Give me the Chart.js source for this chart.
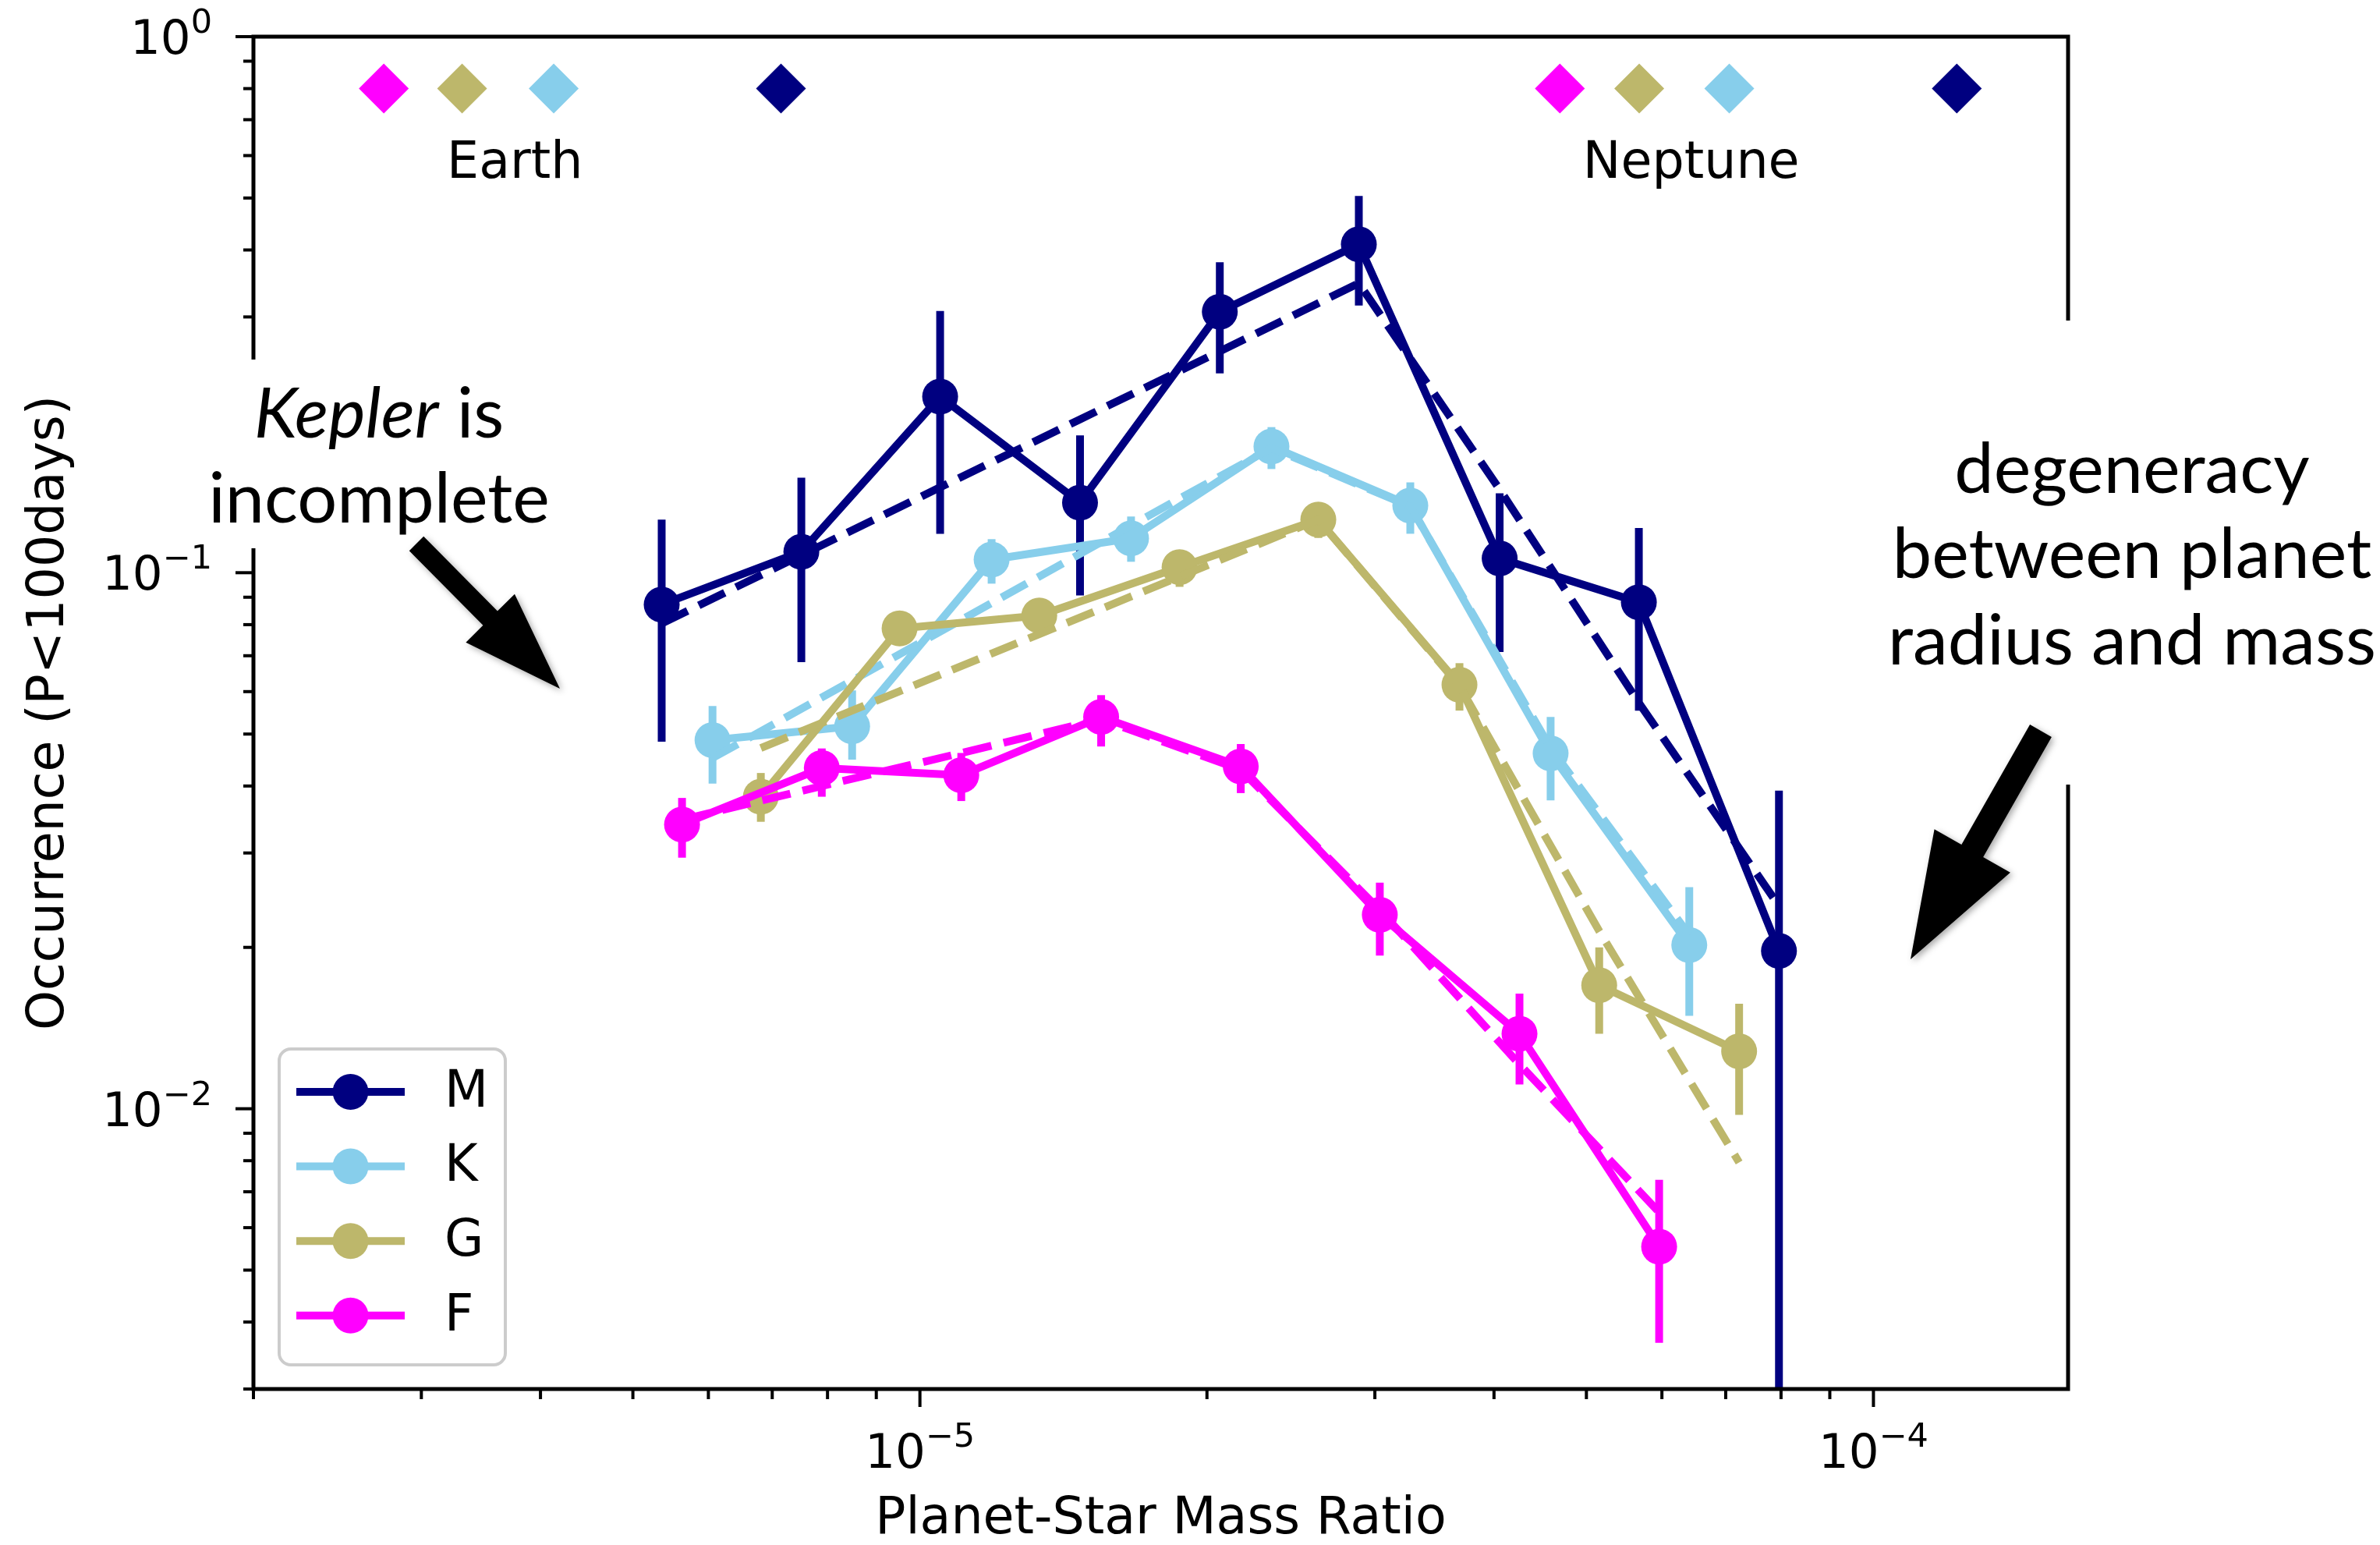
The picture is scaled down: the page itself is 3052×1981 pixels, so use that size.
<!DOCTYPE html>
<html>
<head>
<meta charset="utf-8">
<script src="https://cdn.jsdelivr.net/npm/chart.js@4.4.0/dist/chart.umd.min.js"></script>
<style>
  html, body { margin: 0; padding: 0; background: #fff; }
  canvas { display: block; }
</style>
</head>
<body>
<canvas id="occChart" width="3052" height="1981" style="width:3052px;height:1981px"></canvas>
<script>
// occurrence rate per planet-star mass ratio bin, split by host spectral type
const ratioM = [5.36e-6, 7.51e-6, 1.050e-5, 1.472e-5, 2.063e-5, 2.886e-5, 4.055e-5, 5.675e-5, 7.96e-5];
const occM   = [0.0872, 0.1094, 0.213, 0.1351, 0.3068, 0.4098, 0.1063, 0.0881, 0.0197];
const lowM   = [0.0484, 0.0681, 0.1182, 0.0907, 0.2355, 0.3151, 0.0711, 0.0553, 0.001];
const highM  = [0.1256, 0.1504, 0.3078, 0.1803, 0.3796, 0.5043, 0.1407, 0.1212, 0.0392];
const fitM   = [0.0804, 0.1078, 0.1443, 0.1932, 0.2588, 0.3467, 0.1430, 0.0572, 0.0239];

const ratioK = [6.06e-6, 8.49e-6, 1.189e-5, 1.665e-5, 2.337e-5, 3.268e-5, 4.586e-5, 6.41e-5];
const occK   = [0.0487, 0.0517, 0.1058, 0.1159, 0.172, 0.1334, 0.046, 0.0202];
const lowK   = [0.0404, 0.0448, 0.0954, 0.1048, 0.1561, 0.1182, 0.0376, 0.0149];
const highK  = [0.0564, 0.0603, 0.1155, 0.1273, 0.1869, 0.1474, 0.0538, 0.0259];
const fitK   = [0.0451, 0.0629, 0.0878, 0.1225, 0.1709, 0.1329, 0.0471, 0.0211];

const ratioG = [6.81e-6, 9.52e-6, 1.334e-5, 1.872e-5, 2.617e-5, 3.68e-5, 5.157e-5, 7.23e-5];
const occG   = [0.0382, 0.0787, 0.0832, 0.1024, 0.1256, 0.0618, 0.0170, 0.0128];
const lowG   = [0.0343, 0.0732, 0.0768, 0.0941, 0.1161, 0.0553, 0.0138, 0.00974];
const highG  = [0.0423, 0.0846, 0.0895, 0.1094, 0.1338, 0.0678, 0.0200, 0.0157];
const fitG   = [0.0471, 0.0601, 0.0768, 0.0983, 0.1256, 0.0615, 0.02145, 0.00794];

const ratioF = [5.63e-6, 7.89e-6, 1.105e-5, 1.549e-5, 2.170e-5, 3.036e-5, 4.254e-5, 5.96e-5];
const occF   = [0.0339, 0.0432, 0.0419, 0.0538, 0.0435, 0.0230, 0.0138, 0.00553];
const lowF   = [0.0294, 0.0382, 0.0375, 0.0474, 0.0388, 0.0193, 0.0111, 0.00366];
const highF  = [0.0380, 0.0470, 0.0461, 0.0591, 0.0479, 0.0264, 0.0164, 0.00737];
const fitF   = [0.0346, 0.0400, 0.0461, 0.0533, 0.0429, 0.02348, 0.0121, 0.00641];

// Earth and Neptune mass ratios for each host type (F, G, K, M)
const markerTypes   = ['F', 'G', 'K', 'M'];
const earthRatio    = [2.74e-6, 3.31e-6, 4.13e-6, 7.15e-6];
const neptuneRatio  = [4.69e-5, 5.68e-5, 7.06e-5, 1.223e-4];
const markerLevel   = 0.8;

// axis ticks
const xMajorTicks = [1e-5, 1e-4];
const xTickExps   = ['−5', '−4'];
const yMajorTicks = [1e-2, 1e-1, 1];
const yTickExps   = ['−2', '−1', '0'];

const typeColors = { M: '#000080', K: '#87ceeb', G: '#bdb76b', F: '#ff00ff' };

const series = [
  { label: 'M', ratio: ratioM, occ: occM, low: lowM, high: highM, fit: fitM },
  { label: 'K', ratio: ratioK, occ: occK, low: lowK, high: highK, fit: fitK },
  { label: 'G', ratio: ratioG, occ: occG, low: lowG, high: highG, fit: fitG },
  { label: 'F', ratio: ratioF, occ: occF, low: lowF, high: highF, fit: fitF }
];

const LW = 10;
const datasets = [];
series.forEach((s, i) => {
  const c = typeColors[s.label];
  const base = 80 - i * 20;
  datasets.push({
    label: s.label,
    data: s.ratio.map((r, j) => ({ x: r, y: s.occ[j] })),
    errLow: s.low,
    errHigh: s.high,
    showLine: true,
    borderColor: c,
    borderWidth: LW,
    backgroundColor: c,
    pointRadius: 23,
    pointBackgroundColor: c,
    pointBorderWidth: 0,
    order: base
  });
  datasets.push({
    label: s.label + ' fit',
    data: s.ratio.map((r, j) => ({ x: r, y: s.fit[j] })),
    showLine: true,
    borderColor: c,
    borderWidth: LW,
    borderDash: [37, 16],
    pointRadius: 0,
    order: base - 1
  });
});
datasets.push({
  label: 'Earth / Neptune',
  data: earthRatio.map(r => ({ x: r, y: markerLevel })).concat(neptuneRatio.map(r => ({ x: r, y: markerLevel }))),
  pointStyle: 'rectRot',
  pointRadius: 32,
  pointBorderWidth: 0,
  pointBackgroundColor: markerTypes.concat(markerTypes).map(t => typeColors[t]),
  showLine: false,
  order: 0
});

const SANS = '"DejaVu Sans", sans-serif';
const NOTE = 'Lato, "Open Sans", sans-serif';

// "10" with a raised exponent, anchored by align ('center' or 'right')
function drawPower(ctx, exp, x, baseline, align) {
  ctx.font = '61px ' + SANS;
  const wb = ctx.measureText('10').width;
  ctx.font = '43px ' + SANS;
  const we = ctx.measureText(exp).width;
  const start = align === 'right' ? x - wb - we : x - (wb + we) / 2;
  ctx.textAlign = 'left';
  ctx.textBaseline = 'alphabetic';
  ctx.font = '61px ' + SANS;
  ctx.fillText('10', start, baseline);
  ctx.font = '43px ' + SANS;
  ctx.fillText(exp, start + wb, baseline - 27);
}

function drawArrow(ctx, x0, y0, x1, y1, shaftW, headW, headL) {
  const len = Math.hypot(x1 - x0, y1 - y0);
  const ux = (x1 - x0) / len, uy = (y1 - y0) / len;
  const nx = -uy, ny = ux;
  const bx = x1 - ux * headL, by = y1 - uy * headL;
  ctx.save();
  ctx.shadowColor = 'rgba(0,0,0,0.35)';
  ctx.shadowBlur = 8;
  ctx.shadowOffsetX = 3;
  ctx.shadowOffsetY = 3;
  ctx.fillStyle = '#000';
  ctx.beginPath();
  ctx.moveTo(x0 + nx * shaftW / 2, y0 + ny * shaftW / 2);
  ctx.lineTo(bx + nx * shaftW / 2, by + ny * shaftW / 2);
  ctx.lineTo(bx + nx * headW / 2, by + ny * headW / 2);
  ctx.lineTo(x1, y1);
  ctx.lineTo(bx - nx * headW / 2, by - ny * headW / 2);
  ctx.lineTo(bx - nx * shaftW / 2, by - ny * shaftW / 2);
  ctx.lineTo(x0 - nx * shaftW / 2, y0 - ny * shaftW / 2);
  ctx.closePath();
  ctx.fill();
  ctx.restore();
}

const occurrencePlot = {
  id: 'occurrencePlot',
  beforeDraw(chart) {
    const ctx = chart.ctx;
    ctx.save();
    ctx.fillStyle = '#fff';
    ctx.fillRect(0, 0, chart.width, chart.height);
    ctx.restore();
  },
  // vertical error bars sit under each series' line and markers
  beforeDatasetDraw(chart, args) {
    const ds = chart.data.datasets[args.index];
    if (!ds.errLow) return;
    const { ctx, chartArea: a, scales: { x, y } } = chart;
    ctx.save();
    ctx.beginPath();
    ctx.rect(a.left, a.top, a.right - a.left, a.bottom - a.top);
    ctx.clip();
    ctx.strokeStyle = ds.borderColor;
    ctx.lineWidth = LW;
    ds.data.forEach((p, i) => {
      const px = x.getPixelForValue(p.x);
      ctx.beginPath();
      ctx.moveTo(px, y.getPixelForValue(ds.errLow[i]));
      ctx.lineTo(px, y.getPixelForValue(ds.errHigh[i]));
      ctx.stroke();
    });
    ctx.restore();
  },
  afterDraw(chart) {
    const { ctx, chartArea: a, scales: { x, y } } = chart;
    ctx.save();

    // frame
    ctx.strokeStyle = '#000';
    ctx.lineWidth = 5;
    ctx.strokeRect(a.left, a.top, a.right - a.left, a.bottom - a.top);

    // log ticks, bottom and left only
    ctx.lineWidth = 4;
    for (let d = -6; d <= -4; d++) {
      for (let m = 1; m <= 9; m++) {
        const v = m * Math.pow(10, d);
        if (v < x.min * 0.999 || v > x.max * 1.001) continue;
        const px = x.getPixelForValue(v);
        ctx.beginPath();
        ctx.moveTo(px, a.bottom);
        ctx.lineTo(px, a.bottom + (m === 1 ? 23 : 13));
        ctx.stroke();
      }
    }
    for (let d = -3; d <= 0; d++) {
      for (let m = 1; m <= 9; m++) {
        const v = m * Math.pow(10, d);
        if (v < y.min * 0.999 || v > y.max * 1.001) continue;
        const py = y.getPixelForValue(v);
        ctx.beginPath();
        ctx.moveTo(a.left, py);
        ctx.lineTo(a.left - (m === 1 ? 23 : 13), py);
        ctx.stroke();
      }
    }

    ctx.fillStyle = '#000';
    xMajorTicks.forEach((v, i) => drawPower(ctx, xTickExps[i], x.getPixelForValue(v), a.bottom + 101, 'center'));
    yMajorTicks.forEach((v, i) => drawPower(ctx, yTickExps[i], a.left - 53, y.getPixelForValue(v) + 22, 'right'));

    // axis titles
    ctx.font = '65px ' + SANS;
    ctx.textAlign = 'center';
    ctx.textBaseline = 'alphabetic';
    ctx.fillText('Planet-Star Mass Ratio', (a.left + a.right) / 2, a.bottom + 185);
    ctx.save();
    ctx.translate(64, (a.top + a.bottom) / 2);
    ctx.rotate(-Math.PI / 2);
    ctx.textBaseline = 'middle';
    ctx.fillText('Occurrence (P<100days)', 0, 0);
    ctx.restore();

    // Earth / Neptune captions under the diamonds
    ctx.font = '65px ' + SANS;
    ctx.textAlign = 'center';
    ctx.fillText('Earth', x.getPixelForValue(3.76e-6), y.getPixelForValue(0.5456));
    ctx.fillText('Neptune', x.getPixelForValue(6.44e-5), y.getPixelForValue(0.5456));

    // legend
    const lx = 358, ly = 1345, lw = 290, lh = 405;
    ctx.fillStyle = 'rgba(255,255,255,0.8)';
    ctx.strokeStyle = '#cccccc';
    ctx.lineWidth = 4;
    ctx.beginPath();
    ctx.roundRect(lx, ly, lw, lh, 15);
    ctx.fill();
    ctx.stroke();
    series.forEach((s, i) => {
      const ey = 1400 + i * 95.6;
      const c = typeColors[s.label];
      ctx.strokeStyle = c;
      ctx.lineWidth = LW;
      ctx.beginPath();
      ctx.moveTo(380, ey);
      ctx.lineTo(519, ey);
      ctx.stroke();
      ctx.fillStyle = c;
      ctx.beginPath();
      ctx.arc(449.5, ey, 23, 0, Math.PI * 2);
      ctx.fill();
      ctx.fillStyle = '#000';
      ctx.font = '65px ' + SANS;
      ctx.textAlign = 'left';
      ctx.textBaseline = 'middle';
      ctx.fillText(s.label, 570, ey + 2);
    });

    // annotation panels
    ctx.fillStyle = '#fff';
    ctx.fillRect(270, 461, 450, 242);
    ctx.fillRect(2420, 411, 632, 595);

    ctx.fillStyle = '#000';
    ctx.textBaseline = 'alphabetic';
    ctx.font = 'italic 90px ' + NOTE;
    const w1 = ctx.measureText('Kepler').width;
    ctx.font = '90px ' + NOTE;
    const w2 = ctx.measureText(' is').width;
    const sx = 486 - (w1 + w2) / 2;
    ctx.textAlign = 'left';
    ctx.font = 'italic 90px ' + NOTE;
    ctx.fillText('Kepler', sx, 561);
    ctx.font = '90px ' + NOTE;
    ctx.fillText(' is', sx + w1, 561);
    ctx.textAlign = 'center';
    ctx.fillText('incomplete', 486, 670);
    ctx.fillText('degeneracy', 2734, 632);
    ctx.fillText('between planet', 2734, 741);
    ctx.fillText('radius and mass', 2734, 852);

    drawArrow(ctx, 534, 697, 718, 883, 26, 88, 127);
    drawArrow(ctx, 2617, 937, 2450, 1230, 32, 112, 160);

    ctx.restore();
  }
};

new Chart(document.getElementById('occChart'), {
  type: 'scatter',
  data: { datasets },
  options: {
    responsive: false,
    animation: false,
    devicePixelRatio: 1,
    events: [],
    layout: { padding: { left: 325, top: 47, right: 400, bottom: 200 } },
    plugins: { legend: { display: false }, tooltip: { enabled: false } },
    scales: {
      x: { type: 'logarithmic', min: 2e-6, max: 1.6e-4, display: false },
      y: { type: 'logarithmic', min: 3e-3, max: 1, display: false }
    }
  },
  plugins: [occurrencePlot]
});
</script>
</body>
</html>
